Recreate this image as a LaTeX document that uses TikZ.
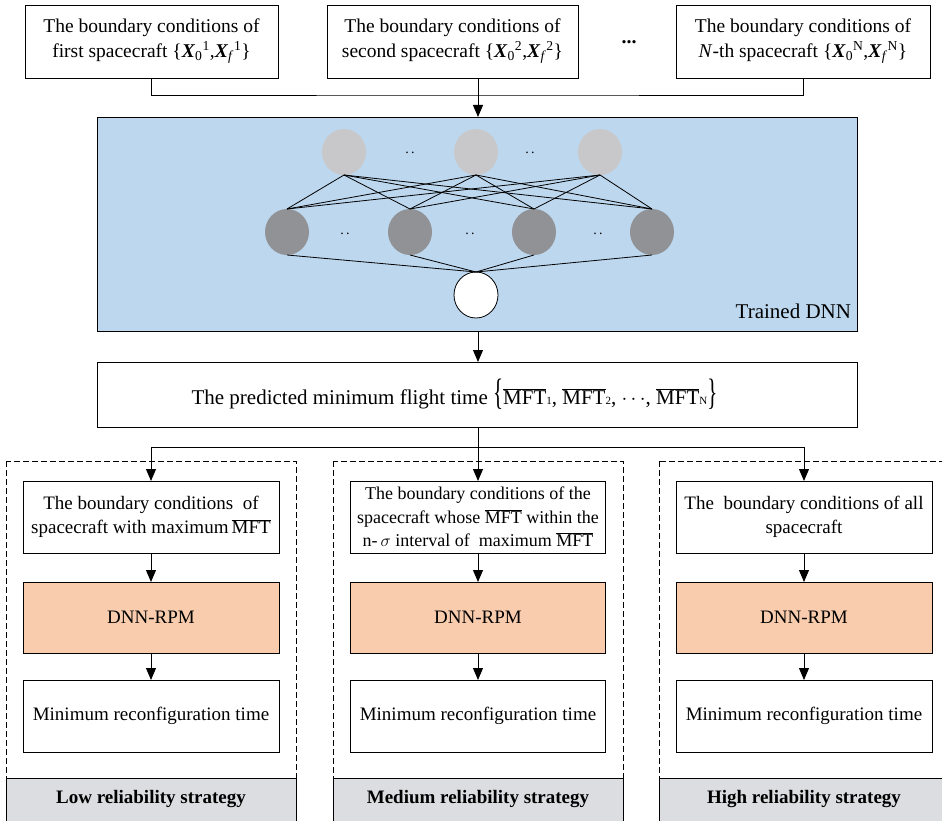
\documentclass[tikz,border=0pt]{standalone}
\usepackage{fontspec}
\usepackage{graphicx}
\setmainfont{Liberation Serif}
\usetikzlibrary{arrows.meta,shapes.geometric}
\definecolor{dnnblue}{RGB}{189,215,238}
\definecolor{toplayer}{RGB}{200,200,202}
\definecolor{midlayer}{RGB}{145,146,150}
\definecolor{rpmcol}{RGB}{248,204,173}
\definecolor{lblgray}{RGB}{220,221,224}
\newcommand{\mftbar}{$\overline{\hbox{MFT}}$}
\newcommand{\bX}{\textbf{\textit{X}}}
\newcommand{\sub}[1]{\hbox{\fontsize{11}{11}\selectfont #1}}
\begin{document}
\begin{tikzpicture}[x=1pt,y=-1pt,
  every node/.style={inner sep=0pt,outer sep=0pt},
  box/.style={draw,line width=0.9pt,fill=white,align=center,font=\fontsize{19}{24}\selectfont},
  topbox/.style={box,font=\fontsize{19.5}{25}\selectfont},
  topn/.style={ellipse,fill=toplayer,minimum width=44pt,minimum height=46pt},
  midn/.style={ellipse,fill=midlayer,minimum width=44pt,minimum height=46pt},
  outn/.style={ellipse,draw,line width=0.8pt,fill=white,minimum width=44pt,minimum height=46pt},
  arr/.style={line width=0.9pt,-{Triangle[length=12pt,width=10pt]}},
  ln/.style={line width=0.9pt},
  dashbox/.style={draw,line width=0.8pt,dash pattern=on 6pt off 3pt},
  lbl/.style={draw,line width=0.9pt,fill=lblgray},
  lbltext/.style={font=\fontsize{19}{20}\selectfont\bfseries},
  dots/.style={font=\fontsize{14}{14}\selectfont,anchor=base}
]
\useasboundingbox (0,0) rectangle (942,821);
\clip (0,0) rectangle (942,821);

% top boxes
\node[topbox,minimum width=253pt,minimum height=73pt] (b1) at (151.5,41.5)
  {The boundary conditions of\\first spacecraft \{\bX\textsubscript{0}\textsuperscript{1},\bX\textsubscript{\textit{f}}\textsuperscript{1}\}};
\node[topbox,minimum width=251pt,minimum height=73pt] (b2) at (452.5,41.5)
  {The boundary conditions of\\second spacecraft \{\bX\textsubscript{0}\textsuperscript{2},\bX\textsubscript{\textit{f}}\textsuperscript{2}\}};
\node[topbox,minimum width=254pt,minimum height=73pt] (b3) at (803,41.5)
  {The boundary conditions of\\\textit{N}-th spacecraft \{\bX\textsubscript{0}\textsuperscript{N},\bX\textsubscript{\textit{f}}\textsuperscript{N}\}};
\node[font=\fontsize{20}{20}\selectfont\bfseries] (edots) at (629,42) {...};

% DNN box
\node[draw,line width=0.9pt,fill=dnnblue,minimum width=760pt,minimum height=214pt] (dnn) at (477,224) {};
\coordinate (jt) at (478,95);
\draw[ln] (b1.south) |- (jt) -| (b3.south);
\draw[arr] (b2.south -| jt) -- (jt |- dnn.north);

% neurons
\node[topn] (t1) at (344,152) {};
\node[topn] (t2) at (476,152) {};
\node[topn] (t3) at (600,152) {};
\node[midn] (m1) at (287,232) {};
\node[midn] (m2) at (410,232) {};
\node[midn] (m3) at (534,232) {};
\node[midn] (m4) at (652,232) {};
\node[outn] (o1) at (476,295) {};
\foreach \i in {1,2,3}{\foreach \j in {1,2,3,4}{\draw[line width=0.8pt] (t\i.south) -- (m\j.north);}}
\foreach \j in {1,2,3,4}{\draw[line width=0.8pt] (m\j.south) -- (o1.north);}
\node[dots] (d1) at (410,154) {.\,.};
\node[dots] (d2) at (530,154) {.\,.};
\node[dots] (d3) at (345,234) {.\,.};
\node[dots] (d4) at (470,234) {.\,.};
\node[dots] (d5) at (598,234) {.\,.};
\node[font=\fontsize{21}{21}\selectfont,anchor=base east] (tdnn) at (851,318) {Trained DNN};

% MFT box
\node[draw,line width=0.9pt,fill=white,minimum width=760pt,minimum height=65pt,font=\fontsize{21}{24}\selectfont] (mft) at (477,394.5)
  {\hspace*{-45pt}The predicted minimum flight time \scalebox{1}[1.75]{\{}$\overline{\hbox{MFT}}$\sub{1}, $\overline{\hbox{MFT}}$\sub{2}, $\cdots$, $\overline{\hbox{MFT}}$\sub{N}\scalebox{1}[1.75]{\}}};
\draw[arr] (dnn.south -| jt) -- (mft.north -| jt);

% dashed strategy frames
\draw[dashbox] (6,461) rectangle (296,790);
\draw[dashbox] (333,461) rectangle (623,790);
\draw[dashbox] (659,461) rectangle (950,790);

% lower boxes
\node[box,minimum width=256pt,minimum height=72pt] (l1) at (151,517)
  {The boundary conditions~~of\\spacecraft with maximum\,\mftbar};
\node[box,minimum width=255pt,minimum height=72pt,font=\fontsize{18}{23.5}\selectfont] (c1) at (478,517)
  {The boundary conditions of the\\spacecraft whose \mftbar{} within the\\n-\,$\sigma$ interval of~ maximum \mftbar};
\node[box,minimum width=256pt,minimum height=72pt] (r1) at (804,517)
  {The~ boundary conditions of all\\spacecraft};
\node[box,fill=rpmcol,minimum width=256pt,minimum height=71pt] (l2) at (151,617.5) {DNN-RPM};
\node[box,fill=rpmcol,minimum width=255pt,minimum height=71pt] (c2) at (478,617.5) {DNN-RPM};
\node[box,fill=rpmcol,minimum width=256pt,minimum height=71pt] (r2) at (804,617.5) {DNN-RPM};
\node[box,minimum width=256pt,minimum height=72pt] (l3) at (151,716) {Minimum reconfiguration time};
\node[box,minimum width=255pt,minimum height=72pt] (c3) at (478,716) {Minimum reconfiguration time};
\node[box,minimum width=256pt,minimum height=72pt] (r3) at (804,716) {Minimum reconfiguration time};

\coordinate (jb) at (478,447);
\draw[ln] (mft.south -| jb) -- (jb);
\draw[arr] (jb) -| (l1.north);
\draw[arr] (jb) -| (r1.north);
\draw[arr] (jb) -- (c1.north);
\foreach \c in {l,c,r}{
  \draw[arr] (\c1.south) -- (\c2.north);
  \draw[arr] (\c2.south) -- (\c3.north);
}

% strategy labels
\node[lbl,minimum width=290pt,minimum height=52pt] (g1) at (151,804) {};
\node[lbl,minimum width=290pt,minimum height=52pt] (g2) at (478,804) {};
\node[lbl,minimum width=292pt,minimum height=52pt] (g3) at (805,804) {};
\node[lbltext] (g1t) at (151,799) {Low reliability strategy};
\node[lbltext] (g2t) at (478,799) {Medium reliability strategy};
\node[lbltext] (g3t) at (804,799) {High reliability strategy};
\end{tikzpicture}
\end{document}
